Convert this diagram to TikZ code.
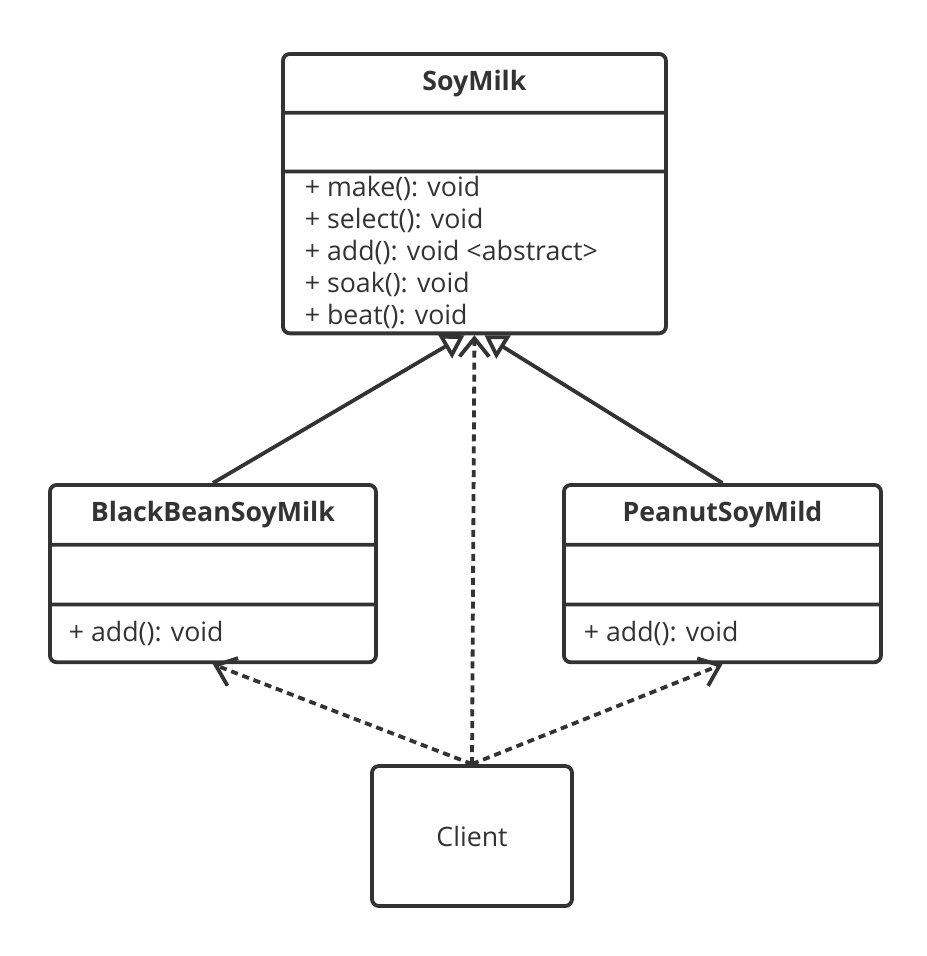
\documentclass[tikz,border=0pt]{standalone}
\usepackage{fontspec}
\setmainfont{Open Sans}
\usetikzlibrary{shapes,arrows.meta}
\definecolor{ink}{HTML}{333333}

\begin{document}
\begin{tikzpicture}[x=0.025cm,y=-0.025cm]
  \tikzstyle{umlclass}=[rectangle split,rectangle split parts=3,draw=ink,text=ink,
    line width=2.7pt,rounded corners=5pt,inner sep=0pt,anchor=north west,
    font=\fontsize{19}{24}\selectfont]
  \tikzstyle{inherit}=[draw=ink,line width=2.7pt,-{Triangle[open,length=16pt,width=19pt]}]
  \tikzstyle{depend}=[draw=ink,line width=2.7pt,dash pattern=on 5pt off 3.5pt,
    -{Straight Barb[length=13pt,width=21pt]}]
  \useasboundingbox (0,0) rectangle (927,956);
  % abstract class
  \node[umlclass] (soymilk) at (281,52)
    {\parbox[c][1.375cm][c]{9.575cm}{\centering\bfseries SoyMilk}
     \nodepart{two}\parbox[c][1.375cm][c]{9.575cm}{}
     \nodepart{three}\parbox[c][3.95cm][c]{9.575cm}{\raggedright\leftskip=0.55cm\baselineskip=0.8cm
       + make(): void\\ + select(): void\\ + add(): void \textless abstract\textgreater\\
       + soak(): void\\ + beat(): void}};
  % concrete classes
  \node[umlclass] (blackbean) at (48,483)
    {\parbox[c][1.4cm][c]{8.15cm}{\centering\bfseries BlackBeanSoyMilk}
     \nodepart{two}\parbox[c][1.4cm][c]{8.15cm}{}
     \nodepart{three}\parbox[c][1.35cm][c]{8.15cm}{\raggedright\leftskip=0.475cm + add(): void}};
  \node[umlclass] (peanut) at (562,483)
    {\parbox[c][1.4cm][c]{7.925cm}{\centering\bfseries PeanutSoyMild}
     \nodepart{two}\parbox[c][1.4cm][c]{7.925cm}{}
     \nodepart{three}\parbox[c][1.35cm][c]{7.925cm}{\raggedright\leftskip=0.5cm + add(): void}};
  \node[draw=ink,text=ink,line width=2.7pt,rounded corners=5pt,minimum width=5cm,minimum height=3.5cm,
    font=\fontsize{19}{24}\selectfont] (client) at (472,836) {Client};
  % relations
  \draw[inherit] (blackbean.north) -- ([xshift=-0.25cm]soymilk.south);
  \draw[inherit] (peanut.north) -- ([xshift=0.25cm]soymilk.south);
  \draw[depend] (client.north) -- (soymilk.south);
  \draw[depend] (client.north) -- (blackbean.south);
  \draw[depend] (client.north) -- (peanut.south);
\end{tikzpicture}
\end{document}
